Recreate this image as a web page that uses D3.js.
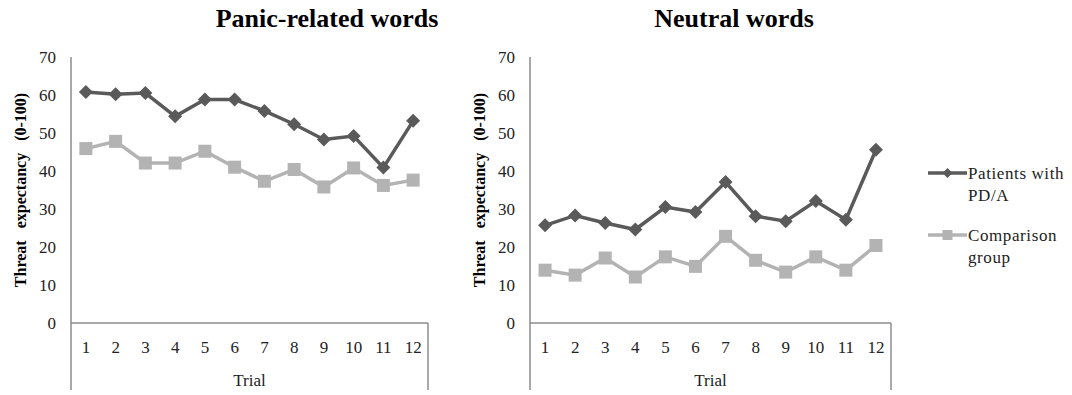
<!DOCTYPE html>
<html>
<head>
<meta charset="utf-8">
<script src="https://d3js.org/d3.v7.min.js"></script>
<style>
  body { margin: 0; background: #fff; }
  text { font-family: "Liberation Serif", "Times New Roman", serif; }
</style>
</head>
<body>
<svg id="chart" width="1072" height="395"></svg>
<script>
// values
var trials = ["1","2","3","4","5","6","7","8","9","10","11","12"];
var panicPatients    = [60.8, 60.2, 60.5, 54.4, 58.8, 58.8, 55.8, 52.3, 48.3, 49.2, 40.9, 53.2];
var panicComparison  = [45.9, 47.8, 42.1, 42.1, 45.2, 41.0, 37.3, 40.4, 35.8, 40.8, 36.2, 37.6];
var neutralPatients   = [25.7, 28.3, 26.3, 24.6, 30.5, 29.2, 37.1, 28.1, 26.8, 32.1, 27.2, 45.6];
var neutralComparison = [13.9, 12.6, 17.1, 12.1, 17.4, 14.9, 22.8, 16.5, 13.4, 17.4, 13.9, 20.4];
var yTicks = [0, 10, 20, 30, 40, 50, 60, 70];
var seriesNames = [["Patients with", "PD/A"], ["Comparison", "group"]];

var darkColor = "#5a5a5a";
var lightColor = "#b3b3b3";
var axisColor = "#8c8c8c";

var svg = d3.select("#chart");
var y = d3.scaleLinear().domain([0, 70]).range([323, 57]);
var frameBottom = 390;

function drawPanel(left, right, title, titleX, patients, comparison) {
  var x = d3.scaleBand().domain(trials).range([left, right]);
  var g = svg.append("g");

  // title
  g.append("text")
    .attr("x", titleX).attr("y", 27)
    .attr("text-anchor", "middle")
    .style("font-size", "26px").style("font-weight", "bold")
    .text(title);

  // y axis labels
  var ya = g.append("g")
    .attr("transform", "translate(" + left + ",0)")
    .call(d3.axisLeft(y).tickValues(yTicks).tickSize(0).tickPadding(15));
  ya.select(".domain").remove();
  ya.selectAll("text").style("font-size", "17px").style("font-family", "Liberation Serif").attr("fill", "#222");

  // x axis labels
  var xa = g.append("g")
    .attr("transform", "translate(0," + y(0) + ")")
    .call(d3.axisBottom(x).tickSize(0));
  xa.select(".domain").remove();
  xa.selectAll("text").attr("dy", null).attr("y", 30)
    .style("font-size", "17px").style("font-family", "Liberation Serif").attr("fill", "#222");

  // frame
  g.append("line").attr("x1", left).attr("x2", left).attr("y1", y(70)).attr("y2", frameBottom)
    .attr("stroke", axisColor).attr("stroke-width", 1.5);
  g.append("line").attr("x1", right).attr("x2", right).attr("y1", y(0)).attr("y2", frameBottom)
    .attr("stroke", axisColor).attr("stroke-width", 1.5);
  g.append("line").attr("x1", left).attr("x2", right).attr("y1", y(0)).attr("y2", y(0))
    .attr("stroke", axisColor).attr("stroke-width", 1.5);

  // axis titles
  g.append("text")
    .attr("x", (left + right) / 2).attr("y", 386)
    .attr("text-anchor", "middle")
    .style("font-size", "17px").attr("fill", "#222")
    .text("Trial");
  g.append("text")
    .attr("transform", "translate(" + (left - 45) + "," + 190 + ") rotate(-90)")
    .attr("text-anchor", "middle")
    .style("font-size", "16px").style("font-weight", "bold").style("word-spacing", "8px")
    .text("Threat expectancy (0-100)");

  var line = d3.line()
    .x(function(d, i) { return x(trials[i]) + x.bandwidth() / 2; })
    .y(function(d) { return y(d); });

  // comparison group
  g.append("path").datum(comparison)
    .attr("d", line).attr("fill", "none")
    .attr("stroke", lightColor).attr("stroke-width", 3.5);
  g.selectAll(".sq").data(comparison).enter().append("rect")
    .attr("x", function(d, i) { return x(trials[i]) + x.bandwidth() / 2 - 6.5; })
    .attr("y", function(d) { return y(d) - 6.5; })
    .attr("width", 13).attr("height", 13)
    .attr("fill", lightColor);

  // patients
  g.append("path").datum(patients)
    .attr("d", line).attr("fill", "none")
    .attr("stroke", darkColor).attr("stroke-width", 3.5);
  g.selectAll(".dm").data(patients).enter().append("path")
    .attr("transform", function(d, i) {
      return "translate(" + (x(trials[i]) + x.bandwidth() / 2) + "," + y(d) + ")";
    })
    .attr("d", "M0,-7L7,0L0,7L-7,0Z")
    .attr("fill", darkColor);
}

drawPanel(71, 428, "Panic-related words", 327, panicPatients, panicComparison);
drawPanel(530, 891, "Neutral words", 734, neutralPatients, neutralComparison);

// legend
var legend = svg.append("g");
var legendRows = [
  { names: seriesNames[0], color: darkColor, y: 173, shape: "diamond" },
  { names: seriesNames[1], color: lightColor, y: 235, shape: "square" }
];
legendRows.forEach(function(r) {
  legend.append("line").attr("x1", 928).attr("x2", 967).attr("y1", r.y).attr("y2", r.y)
    .attr("stroke", r.color).attr("stroke-width", 3.5);
  if (r.shape === "diamond") {
    legend.append("path").attr("transform", "translate(947.5," + r.y + ")")
      .attr("d", "M0,-5L5,0L0,5L-5,0Z").attr("fill", r.color);
  } else {
    legend.append("rect").attr("x", 942.5).attr("y", r.y - 5).attr("width", 10).attr("height", 10)
      .attr("fill", r.color);
  }
  legend.append("text").attr("x", 968).attr("y", r.y + 6)
    .style("font-size", "17px").style("letter-spacing", "0.6px").attr("fill", "#222")
    .text(r.names[0]);
  legend.append("text").attr("x", 968).attr("y", r.y + 28)
    .style("font-size", "17px").style("letter-spacing", "0.6px").attr("fill", "#222")
    .text(r.names[1]);
});
</script>
</body>
</html>
